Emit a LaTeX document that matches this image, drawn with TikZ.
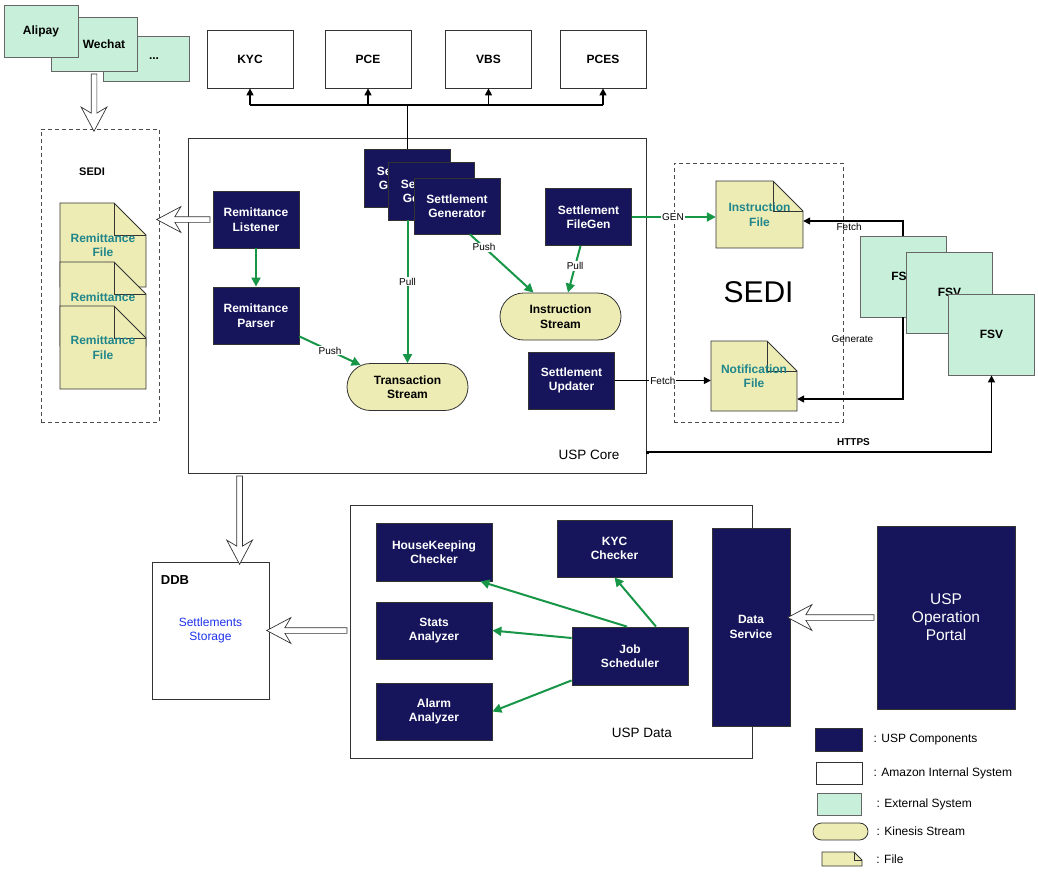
\documentclass[tikz,border=0pt]{standalone}
\usepackage{fontspec}
\setmainfont{Liberation Sans}
\usetikzlibrary{calc,positioning,shapes.arrows,arrows.meta}

\definecolor{uspblue}{RGB}{22,21,92}
\definecolor{extgreen}{RGB}{199,239,217}
\definecolor{fileyel}{RGB}{237,236,180}
\definecolor{fileteal}{RGB}{32,134,140}
\definecolor{sblue}{RGB}{30,50,235}
\definecolor{agreen}{RGB}{24,150,72}

\newcommand{\docfile}[7][30]{%
  \filldraw [draw=black!80, fill=fileyel, line width=0.8pt] (#3-#5/2,#4-#6/2) -- (#3+#5/2-#1,#4-#6/2) -- (#3+#5/2,#4-#6/2+#1) -- (#3+#5/2,#4+#6/2) -- (#3-#5/2,#4+#6/2) -- cycle;
  \draw [black!80, line width=0.8pt] (#3+#5/2-#1,#4-#6/2) -- (#3+#5/2-#1,#4-#6/2+#1) -- (#3+#5/2,#4-#6/2+#1);
  \node (#2) [filetxt, minimum width=#5, minimum height=#6] at (#3,#4) {#7};}

\newcommand{\fatarrow}[2]{%
  \path let \p1=(#1), \p2=(#2), \n1={veclen(\x2-\x1,\y2-\y1)}, \n2={atan2(\y2-\y1,\x2-\x1)} in
    node [fat, minimum height=\n1, rotate=\n2] at ($(\p1)!.5!(\p2)$) {};}

\begin{document}
\begin{tikzpicture}[x=1pt, y=-1pt,
  box/.style={draw=black!80, line width=0.8pt, align=center, inner sep=1pt, font=\fontsize{12}{14.5}\selectfont\bfseries},
  usp/.style={box, fill=uspblue, text=white, minimum width=86pt, minimum height=57pt},
  sys/.style={box, fill=white, minimum width=86pt, minimum height=58pt},
  ext/.style={box, draw=black!60, fill=extgreen, minimum width=86pt, minimum height=81pt},
  stream/.style={box, fill=fileyel, rounded corners=23.5pt, minimum width=121pt, minimum height=47pt},
  filetxt/.style={align=center, inner sep=1pt, text=fileteal, font=\fontsize{12}{14.5}\selectfont\bfseries},
  dashbox/.style={draw=black!70, dash pattern=on 4pt off 3pt, line width=0.8pt},
  flow/.style={draw=agreen, line width=2pt, -{Triangle[length=9pt,width=9pt]}},
  link/.style={draw=black, line width=1.4pt, -{Triangle[length=7pt,width=7pt]}},
  lbl/.style={fill=white, inner sep=1pt, font=\fontsize{10}{12}\selectfont},
  note/.style={inner sep=1pt, font=\fontsize{10}{12}\selectfont},
  lgtxt/.style={inner sep=1pt, font=\fontsize{12}{14}\selectfont},
  fat/.style={single arrow, draw=black!80, fill=white, line width=0.7pt, inner xsep=0pt, inner ysep=2.5pt,
    single arrow head extend=10pt, single arrow tip angle=56, single arrow head indent=6pt}]

  \useasboundingbox (0,0) rectangle (1038,876);

  \node (etc) [ext, minimum height=45pt] at (146,58.5) {\hspace*{16pt}...};
  \node (wec) [ext, minimum height=54pt] at (94,44) {\hspace*{20pt}Wechat};
  \node (ali) [ext, minimum width=74pt, minimum height=52pt] at (41,31) {Alipay};

  \node (kyc) [sys] at (250,59) {KYC};
  \node (pce) [sys] at (368,59) {PCE};
  \node (vbs) [sys] at (488.5,59) {VBS};
  \node (pces) [sys] at (603,59) {PCES};

  \node (sedl) [dashbox, minimum width=118pt, minimum height=293pt] at (100,275.5) {};
  \node (sedlbl) [font=\fontsize{11}{13}\selectfont\bfseries] at (92,172) {SEDI};
  \docfile[32]{rf1}{103}{245}{86}{84}{Remittance\\File}
  \docfile[32]{rf2}{103}{304}{86}{84}{Remittance\\File}
  \docfile[32]{rf3}{103}{347.5}{86}{83}{Remittance\\File}

  \node (core) [draw=black!80, line width=0.8pt, minimum width=458pt, minimum height=335pt] at (417,305.5) {};
  \node (corelbl) [font=\fontsize{13.5}{16}\selectfont] at (589,455) {USP Core};

  \node (sedr) [dashbox, minimum width=169pt, minimum height=259pt, font=\fontsize{30}{36}\selectfont] at (758.5,292.5) {SEDI};

  \node (lis) [usp] at (256,219.5) {Remittance\\Listener};
  \node (par) [usp] at (256,315.5) {Remittance\\Parser};
  \node (sg1) [usp, minimum height=58pt] at (407.5,178) {Settlement\\Generator};
  \node (sg2) [usp, minimum height=58pt] at (431.5,191) {Settlement\\Generator};
  \node (sg3) [usp, minimum height=56pt] at (457,206) {Settlement\\Generator};
  \node (fg) [usp] at (588.5,217) {Settlement\\FileGen};
  \node (upd) [usp] at (571.5,380.5) {Settlement\\Updater};
  \node (ts) [stream] at (407.5,387) {Transaction\\Stream};
  \node (is) [stream] at (560.5,316.5) {Instruction\\Stream};

  \docfile{ifile}{759.5}{214.5}{87}{67}{Instruction\\File}
  \docfile{nfile}{754}{376}{86}{70}{Notification\\File}

  \node (fsv1) [ext] at (903,276.5) {FSV};
  \node (fsv2) [ext] at (949.5,292.5) {FSV};
  \node (fsv3) [ext] at (991.5,334.5) {FSV};

  \coordinate (bus) at (407.5,105);
  \draw [line width=1.4pt] (sg1.north) -- (bus);
  \draw [line width=1.4pt] (kyc.south |- bus) -- (pces.south |- bus);
  \foreach \n in {kyc,pce,vbs,pces}
    \draw [link] (\n.south |- bus) -- (\n.south);

  \draw [flow] (lis) -- (par);
  \draw [flow] ($(par.south east)+(0,-8)$) -- node [lbl] {Push} ($(ts.north west)+(14,2)$);
  \draw [flow] (ts.north |- sg2.south) -- node [lbl, pos=.43] {Pull} (ts.north);
  \draw [flow] ($(sg3.south)+(13,0)$) -- node [lbl, pos=.22] {Push} ($(is.north)+(-27,0)$);
  \draw [flow] ($(fg.south)+(-8,0)$) -- node [lbl, pos=.43] {Pull} ($(is.north)+(7.5,0)$);
  \draw [flow] (fg.east) -- node [lbl, pos=.49] {GEN} (fg.east -| ifile.west);

  \draw [link] (fsv1.north) |- node [note, pos=.77, below=1pt] {Fetch} ($(ifile.east)+(0,6.5)$);
  \draw [link] (fsv1.south) |- node [note, pos=.13, left=28pt] {Generate} ($(nfile.east)+(0,23)$);
  \draw [link] (upd.east) -- node [lbl] {Fetch} (upd.east -| nfile.west);
  \draw [link, {Square[length=3pt,width=3pt]}-{Triangle[length=7pt,width=7pt]}] ($(core.east)+(0,146.5)$) -| node [note, pos=.3, above=5pt, font=\fontsize{10}{12}\selectfont\bfseries] {HTTPS} (fsv3.south);

  \node (ddb) [draw=black!80, line width=0.8pt, minimum width=117pt, minimum height=137pt, text=sblue, align=center, font=\fontsize{12}{14.5}\selectfont] at (210.5,630.5) {Settlements\\Storage};
  \node (ddblbl) [font=\fontsize{13}{15}\selectfont\bfseries] at (175,580) {DDB};
  \node (dat) [draw=black!80, line width=0.8pt, minimum width=402pt, minimum height=253pt] at (551,631.5) {};
  \node (datlbl) [font=\fontsize{13.5}{16}\selectfont] at (642,733) {USP Data};

  \node (hk) [usp, minimum width=116pt, minimum height=58pt] at (434,552) {HouseKeeping\\Checker};
  \node (kyc2) [usp, minimum width=115pt] at (614.5,548.5) {KYC\\Checker};
  \node (sa) [usp, minimum width=116pt] at (434,630.5) {Stats\\Analyzer};
  \node (al) [usp, minimum width=116pt] at (434,711.5) {Alarm\\Analyzer};
  \node (js) [usp, minimum width=116pt, minimum height=58pt] at (630,656) {Job\\Scheduler};
  \node (ds) [usp, minimum width=78pt, minimum height=198pt] at (751,627) {Data\\Service};
  \node (ptl) [usp, minimum width=138pt, minimum height=183pt, font=\fontsize{15.5}{18}\selectfont] at (946,617.5) {USP\\Operation\\Portal};

  \draw [flow] ($(js.north)+(-3,0)$) -- ($(hk.south east)+(-12,0)$);
  \draw [flow] ($(js.north)+(26,0)$) -- (kyc2.south);
  \draw [flow] ($(js.west)+(0,-18)$) -- (sa.east);
  \draw [flow] ($(js.south west)+(0,-5)$) -- (al.east);

  \fatarrow{wec.south}{wec.south |- sedl.north}
  \fatarrow{lis.west}{lis.west -| sedl.east}
  \coordinate (cout) at ($(core.south west)+(52,0)$);
  \fatarrow{cout}{cout |- ddb.north}
  \fatarrow{dat.west |- ddb.east}{ddb.east}
  \fatarrow{ptl.west}{ptl.west -| ds.east}

  \node (lgusp) [usp, minimum width=47pt, minimum height=23pt] at (838.5,739.5) {};
  \node (lgsys) [sys, minimum width=46pt, minimum height=22pt] at (839,773) {};
  \node (lgext) [ext, minimum width=44pt, minimum height=22pt] at (839,804) {};
  \node (lgstr) [stream, minimum width=55pt, minimum height=17pt, rounded corners=8.5pt] at (840.5,831.5) {};
  \docfile[8]{lgfile}{842}{859}{40}{14}{}
  \node (lgt1) [lgtxt, right=10pt of lgusp] {: USP Components};
  \node (lgt2) [lgtxt, right=10pt of lgsys] {: Amazon Internal System};
  \node (lgt3) [lgtxt, right=14pt of lgext] {: External System};
  \node (lgt4) [lgtxt, right=7pt of lgstr] {: Kinesis Stream};
  \node (lgt5) [lgtxt, right=13pt of lgfile] {: File};
\end{tikzpicture}
\end{document}
